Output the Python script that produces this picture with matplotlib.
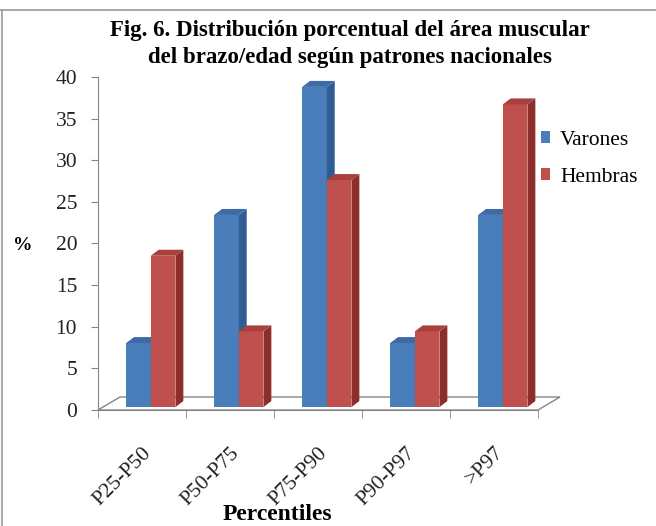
import matplotlib
matplotlib.use('Agg')
import matplotlib.pyplot as plt
from matplotlib.patches import Polygon, Patch
from matplotlib.lines import Line2D
from matplotlib.ticker import FixedLocator
import numpy as np

# ---- data ----
categories = ['P25-P50', 'P50-P75', 'P75-P90', 'P90-P97', '>P97']
varones = [7.69, 23.08, 38.46, 7.69, 23.08]
hembras = [18.18, 9.09, 27.27, 9.09, 36.36]
series_names = ['Varones', 'Hembras']
y_ticks = [0, 5, 10, 15, 20, 25, 30, 35, 40]
title = 'Fig. 6. Distribución porcentual del área muscular\ndel brazo/edad según patrones nacionales'

# ---- style ----
SERIF = ['Liberation Serif', 'DejaVu Serif']
front_cols = ['#4A7EBB', '#C0504D']
side_cols = ['#2F5C92', '#8C2F2C']
top_cols = ['#3C6BA6', '#A8403D']
axis_col = '#868686'

W, H = 656, 526
fig = plt.figure(figsize=(W / 100, H / 100), dpi=100)

def fx(px):
    return px / W

def fy(py):
    return 1 - py / H

ax = fig.add_axes([fx(98), fy(410), fx(538) - fx(98), fy(77) - fy(410)])
ax.set_xlim(-0.5, len(categories) - 0.5)
ax.set_ylim(0, 40)
ax.patch.set_visible(False)

# floor (3D depth)
fdx, fdy = 0.25, 1.56
n = len(categories)
floor = Polygon([(-0.5, 0), (n - 0.5, 0), (n - 0.5 + fdx, fdy), (-0.5 + fdx, fdy)],
                closed=True, facecolor='white', edgecolor=axis_col, lw=1.0,
                clip_on=False, zorder=1)
ax.add_patch(floor)

# bars
bw = 0.28
gshift, bshift_y = 0.10, 0.35
ddx, ddy = 0.09, 0.72
x = np.arange(n)
for s, vals in enumerate([varones, hembras]):
    offs = -bw / 2 if s == 0 else bw / 2
    for i, v in enumerate(vals):
        xc = x[i] + gshift + offs
        x0, x1 = xc - bw / 2, xc + bw / 2
        y0, y1 = bshift_y, bshift_y + v
        z = 3 + i * 2 + s
        ax.add_patch(Polygon([(x0, y0), (x1, y0), (x1, y1), (x0, y1)], closed=True,
                             facecolor=front_cols[s], edgecolor='none', clip_on=False, zorder=z))
        ax.add_patch(Polygon([(x1, y0), (x1 + ddx, y0 + ddy), (x1 + ddx, y1 + ddy), (x1, y1)],
                             closed=True, facecolor=side_cols[s], edgecolor='none',
                             clip_on=False, zorder=z))
        ax.add_patch(Polygon([(x0, y1), (x1, y1), (x1 + ddx, y1 + ddy), (x0 + ddx, y1 + ddy)],
                             closed=True, facecolor=top_cols[s], edgecolor='none',
                             clip_on=False, zorder=z))

# axes styling
for sp in ['top', 'right']:
    ax.spines[sp].set_visible(False)
ax.spines['left'].set_color(axis_col)
ax.spines['bottom'].set_color(axis_col)
ax.spines['left'].set_zorder(2)
ax.spines['bottom'].set_zorder(2)

ax.set_yticks(y_ticks)
ax.set_yticklabels([str(t) for t in y_ticks], fontfamily=SERIF, fontsize=15.5, color='#222222')
ax.tick_params(axis='y', direction='out', length=5, color=axis_col, pad=10)

ax.set_xticks(x)
ax.set_xticklabels(categories, rotation=45, ha='right', va='top', rotation_mode='anchor',
                   fontfamily=SERIF, fontsize=15.5, color='#222222')
ax.tick_params(axis='x', which='major', length=0, pad=24)
ax.xaxis.set_minor_locator(FixedLocator(np.arange(-0.5, n, 1.0)))
ax.tick_params(axis='x', which='minor', direction='out', length=6, color=axis_col)

# labels
fig.text(fx(23), fy(245), '%', fontfamily=SERIF, fontsize=14, fontweight='bold',
         ha='center', va='center')
fig.text(fx(277), fy(515), 'Percentiles', fontfamily=SERIF, fontsize=17, fontweight='bold',
         ha='center', va='center')
fig.text(fx(350), fy(44), title, fontfamily=SERIF, fontsize=16.5, fontweight='bold',
         ha='center', va='center', linespacing=1.4)

# legend
handles = [Patch(facecolor=front_cols[k], edgecolor='none') for k in range(2)]
fig.legend(handles, series_names, loc='upper left', bbox_to_anchor=(fx(532), fy(122)),
           frameon=False, prop={'family': SERIF, 'size': 15.5}, handlelength=0.45,
           handleheight=0.45, handletextpad=0.45, labelspacing=0.85, borderaxespad=0)

# figure frame
fig.add_artist(Line2D([0, 1], [fy(10), fy(10)], transform=fig.transFigure, color='#9a9a9a', lw=1.2))
fig.add_artist(Line2D([fx(2), fx(2)], [0, fy(10)], transform=fig.transFigure, color='#9a9a9a', lw=1.2))

fig.savefig('out.png', dpi=100)
